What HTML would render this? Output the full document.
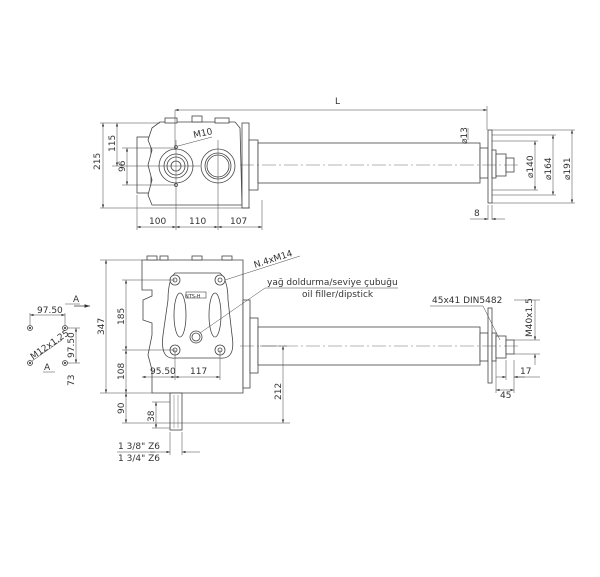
<!DOCTYPE html>
<html><head><meta charset="utf-8"><style>
html,body{margin:0;padding:0;background:#fff;}
svg{display:block;}
text{font-family:"DejaVu Sans","Liberation Sans",sans-serif;font-size:9px;fill:#333;}
</style></head><body>
<svg width="600" height="577" viewBox="0 0 600 577" xmlns="http://www.w3.org/2000/svg">
<defs>
<marker id="a" markerWidth="8" markerHeight="6" refX="7" refY="3" orient="auto-start-reverse"><path d="M0,0.8 L7,3 L0,5.2z" fill="#333"/></marker>
</defs>
<g stroke="#444" stroke-width="0.8">
<rect fill="#fff" x="137" y="137" width="14" height="56"/>
<path fill="#fff" d="M152,128 L160,122 L235,122 L240,128 L242,205 L152,205 L148,195 L152,180 L148,165 L152,150 L148,140 Z"/>
<rect fill="#fff" x="165" y="118" width="12" height="5"/><rect fill="#fff" x="192" y="116" width="10" height="6"/><rect fill="#fff" x="215" y="118" width="14" height="5"/>
<rect fill="#fff" x="242" y="123" width="7" height="85"/>
<rect fill="#fff" x="249" y="140" width="9" height="50"/>
<circle fill="#fff" cx="176" cy="166" r="17"/><circle fill="#fff" cx="176" cy="166" r="12"/><circle fill="#fff" cx="176" cy="166" r="9"/><circle fill="#fff" cx="176" cy="166" r="5"/>
<circle fill="#fff" cx="218" cy="166" r="17"/><circle fill="#fff" cx="218" cy="166" r="13"/><circle fill="#fff" cx="218" cy="166" r="11"/>
<circle fill="#fff" cx="176" cy="147" r="1.5"/><circle fill="#fff" cx="176" cy="185" r="1.5"/>
<rect fill="#fff" x="258" y="143" width="222" height="40"/>
<rect fill="#fff" x="480" y="148" width="8" height="30"/>
<rect fill="#fff" x="488" y="130" width="4" height="73"/>
<rect fill="#fff" x="492" y="150" width="4" height="28"/>
<rect fill="#fff" x="496" y="154" width="10" height="22"/>
<rect fill="#fff" x="506" y="158" width="8" height="14"/>
<line x1="175" y1="110" x2="175" y2="150" stroke-width="0.5"/>
<line x1="487" y1="106" x2="487" y2="130" stroke-width="0.5"/>
<line x1="175" y1="110" x2="487" y2="110" marker-start="url(#a)" marker-end="url(#a)" stroke-width="0.5"/>
<line x1="100" y1="123" x2="160" y2="123" stroke-width="0.5"/>
<line x1="100" y1="208" x2="250" y2="208" stroke-width="0.5"/>
<line x1="103" y1="123" x2="103" y2="208" marker-start="url(#a)" marker-end="url(#a)" stroke-width="0.5"/>
<line x1="112" y1="166" x2="200" y2="166" stroke-width="0.5"/>
<line x1="117" y1="123" x2="117" y2="166" marker-start="url(#a)" marker-end="url(#a)" stroke-width="0.5"/>
<line x1="122" y1="148" x2="176" y2="148" stroke-width="0.5"/>
<line x1="122" y1="185" x2="176" y2="185" stroke-width="0.5"/>
<line x1="127" y1="148" x2="127" y2="185" marker-start="url(#a)" marker-end="url(#a)" stroke-width="0.5"/>
<line x1="137" y1="195" x2="137" y2="230" stroke-width="0.5"/>
<line x1="176" y1="140" x2="176" y2="230" stroke-width="0.5"/>
<line x1="218" y1="140" x2="218" y2="230" stroke-width="0.5"/>
<line x1="262" y1="200" x2="262" y2="230" stroke-width="0.5"/>
<line x1="137" y1="227" x2="176" y2="227" marker-start="url(#a)" marker-end="url(#a)" stroke-width="0.5"/>
<line x1="176" y1="227" x2="218" y2="227" marker-start="url(#a)" marker-end="url(#a)" stroke-width="0.5"/>
<line x1="218" y1="227" x2="262" y2="227" marker-start="url(#a)" marker-end="url(#a)" stroke-width="0.5"/>
<line x1="178" y1="146" x2="212" y2="137" stroke-width="0.5"/>
<line x1="240" y1="165" x2="520" y2="165" stroke-width="0.4" stroke-dasharray="14,3,2,3"/>
<line x1="492" y1="130" x2="575" y2="130" stroke-width="0.5"/>
<line x1="492" y1="203" x2="575" y2="203" stroke-width="0.5"/>
<line x1="572" y1="130" x2="572" y2="203" marker-start="url(#a)" marker-end="url(#a)" stroke-width="0.5"/>
<line x1="492" y1="135" x2="556" y2="135" stroke-width="0.5"/>
<line x1="492" y1="195" x2="556" y2="195" stroke-width="0.5"/>
<line x1="553" y1="135" x2="553" y2="195" marker-start="url(#a)" marker-end="url(#a)" stroke-width="0.5"/>
<line x1="492" y1="141" x2="538" y2="141" stroke-width="0.5"/>
<line x1="492" y1="190" x2="538" y2="190" stroke-width="0.5"/>
<line x1="535" y1="141" x2="535" y2="190" marker-start="url(#a)" marker-end="url(#a)" stroke-width="0.5"/>
<line x1="468" y1="128" x2="468" y2="140" stroke-width="0.5"/>
<line x1="488" y1="220" x2="488" y2="205" stroke-width="0.5"/><line x1="492" y1="220" x2="492" y2="205" stroke-width="0.5"/>
<line x1="470" y1="219" x2="488" y2="219" marker-end="url(#a)" stroke-width="0.5"/>
<line x1="505" y1="219" x2="492" y2="219" marker-end="url(#a)" stroke-width="0.5"/>

<path fill="#fff" d="M142,260 L243,260 L243,393 L152,393 L152,370 L148,355 L152,335 L152,323 L143,320 L143,300 L152,296 L152,290 L142,290 Z"/>
<rect fill="#fff" x="147" y="256" width="10" height="4"/><rect fill="#fff" x="160" y="256" width="8" height="4"/><rect fill="#fff" x="192" y="256" width="10" height="4"/><rect fill="#fff" x="222" y="256" width="10" height="4"/>
<path fill="#fff" d="M175,273 L220,273 Q228,280 228,300 L232,335 Q236,360 220,358 L175,358 Q160,360 163,335 L168,300 Q168,280 175,273 Z"/>
<ellipse fill="#fff" cx="180" cy="315" rx="6" ry="22"/><ellipse fill="#fff" cx="215" cy="315" rx="6" ry="22"/>
<circle fill="#fff" cx="175" cy="280" r="5"/><circle fill="#fff" cx="175" cy="280" r="2"/>
<circle fill="#fff" cx="220" cy="280" r="5"/><circle fill="#fff" cx="220" cy="280" r="2"/>
<circle fill="#fff" cx="175" cy="350" r="5"/><circle fill="#fff" cx="175" cy="350" r="2"/>
<circle fill="#fff" cx="220" cy="350" r="5"/><circle fill="#fff" cx="220" cy="350" r="2"/>
<circle fill="#fff" cx="196" cy="337" r="6"/><circle fill="#fff" cx="196" cy="337" r="4"/>
<rect fill="#fff" x="186" y="292" width="20" height="6" stroke-width="0.6"/>
<rect fill="#fff" x="243" y="300" width="7" height="88"/>
<rect fill="#fff" x="250" y="318" width="8" height="55"/>
<rect fill="#fff" x="258" y="327" width="222" height="38"/>
<rect fill="#fff" x="480" y="333" width="8" height="28"/>
<rect fill="#fff" x="488" y="308" width="4" height="75"/>
<rect fill="#fff" x="492" y="333" width="4" height="28"/>
<rect fill="#fff" x="496" y="336" width="10" height="22"/>
<rect fill="#fff" x="506" y="340" width="8" height="14"/>
<rect fill="#fff" x="170" y="393" width="12" height="37"/>
<line x1="174" y1="395" x2="174" y2="428" stroke-width="0.4"/><line x1="178" y1="395" x2="178" y2="428" stroke-width="0.4"/>
<line x1="240" y1="346" x2="520" y2="346" stroke-width="0.4" stroke-dasharray="14,3,2,3"/>
<line x1="100" y1="260" x2="142" y2="260" stroke-width="0.5"/>
<line x1="100" y1="393" x2="152" y2="393" stroke-width="0.5"/>
<line x1="106" y1="260" x2="106" y2="393" marker-start="url(#a)" marker-end="url(#a)" stroke-width="0.5"/>
<line x1="122" y1="280" x2="175" y2="280" stroke-width="0.5"/>
<line x1="122" y1="350" x2="175" y2="350" stroke-width="0.5"/>
<line x1="126" y1="280" x2="126" y2="350" marker-start="url(#a)" marker-end="url(#a)" stroke-width="0.5"/>
<line x1="126" y1="350" x2="126" y2="393" marker-start="url(#a)" marker-end="url(#a)" stroke-width="0.5"/>
<line x1="122" y1="423" x2="290" y2="423" stroke-width="0.5"/>
<line x1="126" y1="393" x2="126" y2="423" marker-start="url(#a)" marker-end="url(#a)" stroke-width="0.5"/>
<line x1="152" y1="402" x2="170" y2="402" stroke-width="0.5"/>
<line x1="152" y1="428" x2="170" y2="428" stroke-width="0.5"/>
<line x1="156" y1="402" x2="156" y2="428" marker-start="url(#a)" marker-end="url(#a)" stroke-width="0.5"/>
<line x1="175" y1="350" x2="175" y2="380" stroke-width="0.5"/>
<line x1="220" y1="350" x2="220" y2="380" stroke-width="0.5"/>
<line x1="142" y1="377" x2="175" y2="377" marker-start="url(#a)" marker-end="url(#a)" stroke-width="0.5"/>
<line x1="175" y1="377" x2="220" y2="377" marker-start="url(#a)" marker-end="url(#a)" stroke-width="0.5"/>
<line x1="260" y1="346" x2="287" y2="346" stroke-width="0.5"/>
<line x1="283" y1="346" x2="283" y2="423" marker-start="url(#a)" marker-end="url(#a)" stroke-width="0.5"/>
<line x1="170" y1="432" x2="170" y2="455" stroke-width="0.5"/><line x1="182" y1="432" x2="182" y2="455" stroke-width="0.5"/>
<line x1="150" y1="452" x2="170" y2="452" marker-end="url(#a)" stroke-width="0.5"/>
<line x1="200" y1="452" x2="182" y2="452" marker-end="url(#a)" stroke-width="0.5"/>
<line x1="117" y1="452" x2="155" y2="452" stroke-width="0.5"/>
<line x1="225" y1="280" x2="300" y2="256" stroke-width="0.5"/>
<line x1="200" y1="333" x2="265" y2="288" stroke-width="0.5"/>
<line x1="265" y1="288" x2="398" y2="288" stroke-width="0.5"/>
<line x1="430" y1="306" x2="483" y2="306" stroke-width="0.5"/>
<line x1="483" y1="306" x2="500" y2="340" stroke-width="0.5"/>
<line x1="514" y1="300" x2="540" y2="300" stroke-width="0.5"/>
<line x1="514" y1="340" x2="540" y2="340" stroke-width="0.5"/>
<line x1="514" y1="354" x2="540" y2="354" stroke-width="0.5"/>
<line x1="535" y1="300" x2="535" y2="340" stroke-width="0.5" marker-end="url(#a)"/>
<line x1="535" y1="365" x2="535" y2="354" stroke-width="0.5" marker-end="url(#a)"/>
<line x1="496" y1="360" x2="496" y2="393" stroke-width="0.5"/>
<line x1="514" y1="360" x2="514" y2="393" stroke-width="0.5"/>
<line x1="496" y1="390" x2="514" y2="390" marker-start="url(#a)" marker-end="url(#a)" stroke-width="0.5"/>
<line x1="506" y1="360" x2="506" y2="380" stroke-width="0.5"/>
<line x1="496" y1="377" x2="506" y2="377" marker-end="url(#a)" stroke-width="0.5"/>
<line x1="525" y1="377" x2="514" y2="377" marker-end="url(#a)" stroke-width="0.5"/>
<line x1="514" y1="377" x2="540" y2="377" stroke-width="0.5"/>
<circle fill="#fff" cx="30" cy="328" r="2.5"/><circle fill="#fff" cx="30" cy="328" r="0.8"/>
<circle fill="#fff" cx="65" cy="328" r="2.5"/><circle fill="#fff" cx="65" cy="328" r="0.8"/>
<circle fill="#fff" cx="30" cy="363" r="2.5"/><circle fill="#fff" cx="30" cy="363" r="0.8"/>
<circle fill="#fff" cx="65" cy="363" r="2.5"/><circle fill="#fff" cx="65" cy="363" r="0.8"/>
<line x1="30" y1="313" x2="30" y2="325" stroke-width="0.5"/><line x1="65" y1="313" x2="65" y2="325" stroke-width="0.5"/>
<line x1="30" y1="315" x2="65" y2="315" marker-start="url(#a)" marker-end="url(#a)" stroke-width="0.5"/>
<line x1="68" y1="328" x2="80" y2="328" stroke-width="0.5"/><line x1="68" y1="363" x2="80" y2="363" stroke-width="0.5"/>
<line x1="76" y1="328" x2="76" y2="363" marker-start="url(#a)" marker-end="url(#a)" stroke-width="0.5"/>
<line x1="32" y1="361" x2="62" y2="340" stroke-width="0.5"/>
<line x1="74" y1="306" x2="90" y2="306" stroke-width="0.8" marker-end="url(#a)"/>
<line x1="65" y1="304" x2="80" y2="304" stroke-width="0.5"/>
<line x1="43" y1="372" x2="55" y2="372" stroke-width="0.5"/>
</g>
<text x="335" y="104">L</text>
<text transform="translate(100,170) rotate(-90)">215</text>
<text transform="translate(115,152) rotate(-90)">115</text>
<text transform="translate(125,172) rotate(-90)">96</text>
<text x="194" y="138" transform="rotate(-12 194 138)">M10</text>
<text x="149" y="224">100</text><text x="189" y="224">110</text><text x="230" y="224">107</text>
<text transform="translate(467,144) rotate(-90)">⌀13</text>
<text transform="translate(533,178) rotate(-90)">⌀140</text>
<text transform="translate(551,180) rotate(-90)">⌀164</text>
<text transform="translate(570,180) rotate(-90)">⌀191</text>
<text x="474" y="216">8</text>
<text x="255" y="268" transform="rotate(-18 255 268)">N.4xM14</text>
<text x="267" y="285">yağ doldurma/seviye çubuğu</text>
<text x="302" y="297">oil filler/dipstick</text>
<text x="432" y="303">45x41 DIN5482</text>
<text transform="translate(532,337) rotate(-90)">M40x1.5</text>
<text x="520" y="374">17</text>
<text x="500" y="398">45</text>
<text transform="translate(104,335) rotate(-90)">347</text>
<text transform="translate(124,325) rotate(-90)">185</text>
<text transform="translate(124,380) rotate(-90)">108</text>
<text transform="translate(124,414) rotate(-90)">90</text>
<text transform="translate(154,422) rotate(-90)">38</text>
<text x="150" y="374">95.50</text><text x="190" y="374">117</text>
<text transform="translate(281,400) rotate(-90)">212</text>
<text x="118" y="449">1 3/8" Z6</text>
<text x="118" y="461">1 3/4" Z6</text>
<text x="185" y="298" style="font-size:5px">NTS-H</text>
<text x="37" y="313">97.50</text>
<text transform="translate(74,358) rotate(-90)">97.50</text>
<text transform="translate(74,386) rotate(-90)">73</text>
<text x="33" y="360" transform="rotate(-35 33 360)">M12x1.25</text>
<text x="73" y="302">A</text>
<text x="44" y="370">A</text>
</svg>
</body></html>
